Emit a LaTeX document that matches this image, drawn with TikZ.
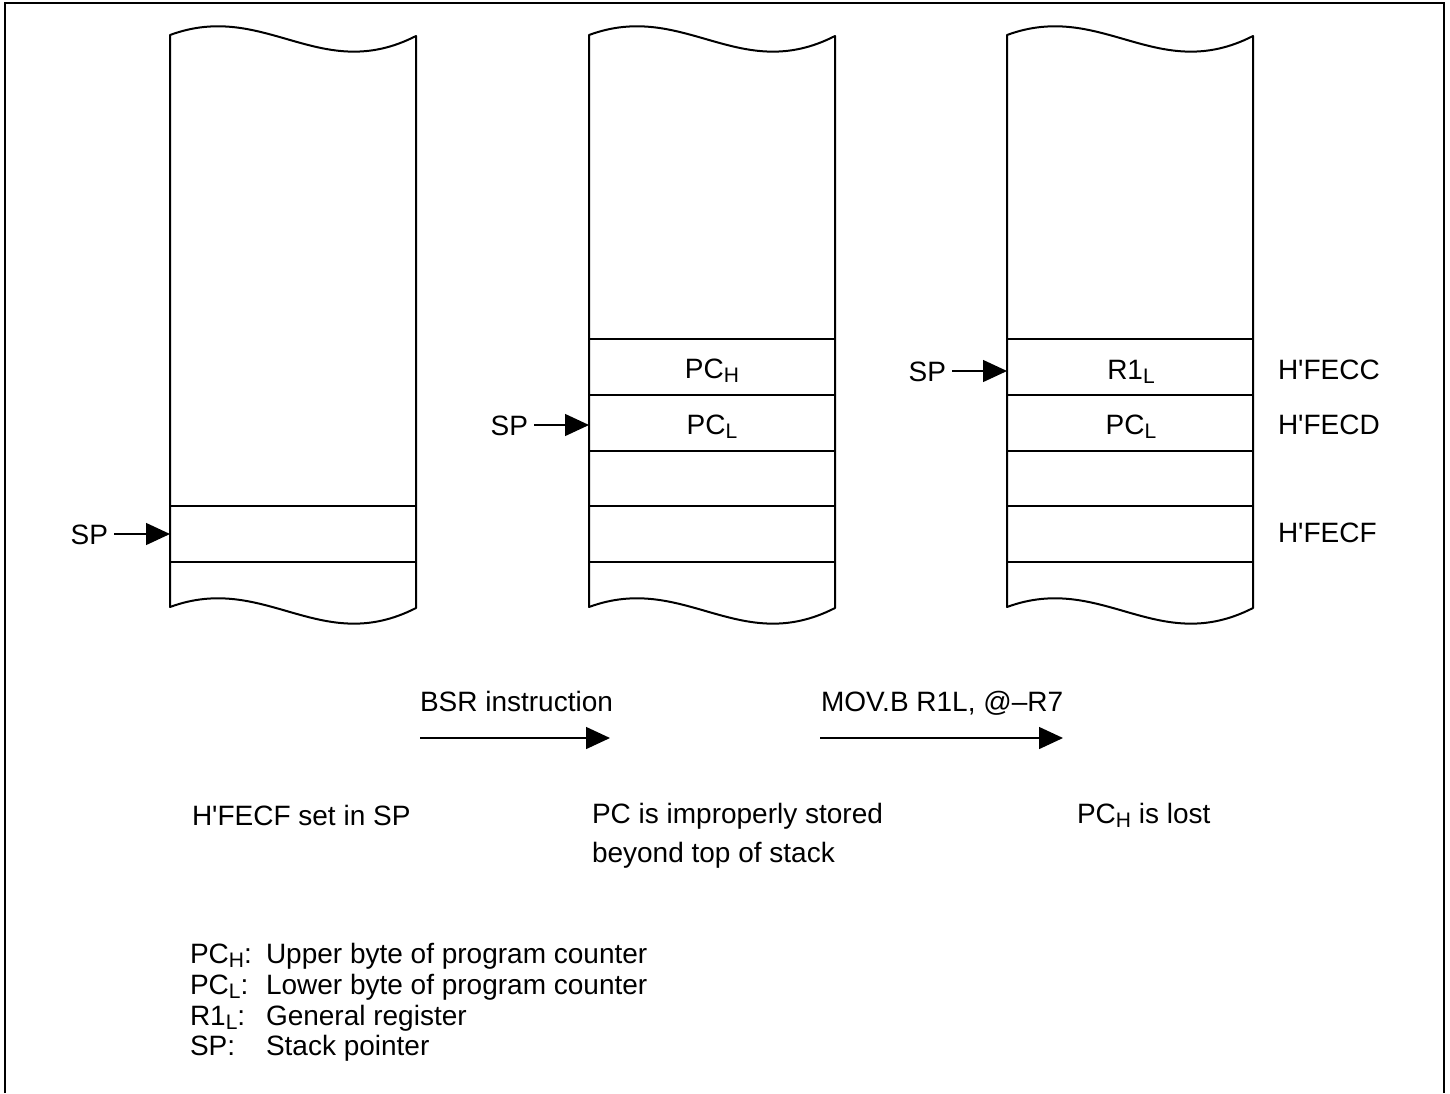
\documentclass[tikz,border=0pt]{standalone}
\usepackage{fontspec}
\setmainfont{Liberation Sans}
\usetikzlibrary{arrows.meta}
\newcommand{\lsub}[1]{\raisebox{-2pt}{\fontsize{10.5pt}{12pt}\selectfont #1}}
\newcommand{\hq}{H\textquotesingle}
\begin{document}
\begin{tikzpicture}[x=0.5pt,y=-0.5pt,
  every node/.style={inner sep=0pt, outer sep=0pt, font=\fontsize{14pt}{19.5pt}\selectfont},
  box/.style={line width=1pt, line join=round},
  divider/.style={line width=0.8pt},
  ptr/.style={line width=0.7pt, -{Triangle[length=12pt,width=11pt]}},
  frame/.style={line width=1pt}]
\useasboundingbox (0,0) rectangle (1450,1093);
\draw[frame] (5,1093) -- (5,3) -- (1444,3) -- (1444,1093);

% stack columns
\foreach \L in {170,589,1007}{
  \draw[box] (\L,35) .. controls (\L+95,0) and (\L+150,85) .. (\L+246,36)
    -- (\L+246,608) .. controls (\L+150,657) and (\L+95,572) .. (\L,607) -- cycle;
}
% dividers
\foreach \y in {506,562}{ \draw[divider] (170,\y) -- (416,\y); }
\foreach \L in {589,1007}{
  \foreach \y in {339,395,451,506,562}{ \draw[divider] (\L,\y) -- (\L+246,\y); }
}

% cell labels
\node[anchor=base] (pch) at (712,378) {PC\lsub{H}};
\node[anchor=base] (pcl2) at (712,434) {PC\lsub{L}};
\node[anchor=base] (r1l) at (1131,379) {R1\lsub{L}};
\node[anchor=base] (pcl3) at (1131,434) {PC\lsub{L}};

% addresses
\node[anchor=base west] (adc) at (1278,379) {\hq FECC};
\node[anchor=base west] (add) at (1278,434) {\hq FECD};
\node[anchor=base west] (adf) at (1278,542) {\hq FECF};

% stack pointers
\node[anchor=base east] (sp1) at (108,544) {SP};
\node[anchor=base east] (sp2) at (528,435) {SP};
\node[anchor=base east] (sp3) at (946,381) {SP};
\coordinate (p1) at (170,534);
\coordinate (p2) at (589,425);
\coordinate (p3) at (1007,371);
\draw[ptr, shorten <=3pt] (sp1.east |- p1) -- (p1);
\draw[ptr, shorten <=3pt] (sp2.east |- p2) -- (p2);
\draw[ptr, shorten <=3pt] (sp3.east |- p3) -- (p3);

% transitions
\node[anchor=base west] (bsr) at (420,711) {BSR instruction};
\node[anchor=base west] (mov) at (821,711) {MOV.B R1L, @--R7};
\coordinate (t1a) at (420,738); \coordinate (t1b) at (610,738);
\coordinate (t2a) at (820,738); \coordinate (t2b) at (1063,738);
\draw[ptr] (t1a) -- (t1b);
\draw[ptr] (t2a) -- (t2b);

% captions
\node[anchor=base west] (cap1) at (192,825) {\hq FECF set in SP};
\node[anchor=north west, align=left] (cap2) at (592,803) {PC is improperly stored\\beyond top of stack};
\node[anchor=base west] (cap3) at (1077,823) {PC\lsub{H} is lost};

% legend
\node[anchor=base west] (k1) at (190,963) {PC\lsub{H}:};
\node[anchor=base west] (k2) at (190,994) {PC\lsub{L}:};
\node[anchor=base west] (k3) at (190,1025) {R1\lsub{L}:};
\node[anchor=base west] (k4) at (190,1055) {SP:};
\node[anchor=base west] (d1) at (266,963) {Upper byte of program counter};
\node[anchor=base west] (d2) at (266,994) {Lower byte of program counter};
\node[anchor=base west] (d3) at (266,1025) {General register};
\node[anchor=base west] (d4) at (266,1055) {Stack pointer};
\end{tikzpicture}
\end{document}
